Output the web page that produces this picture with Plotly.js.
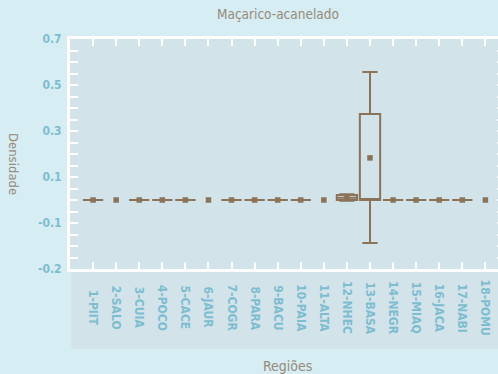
<!DOCTYPE html>
<html>
<head>
<meta charset="utf-8">
<script src="https://cdn.plot.ly/plotly-3.0.1.min.js"></script>
<style>
  html, body { margin: 0; padding: 0; overflow: hidden; background: #d6edf3; }
  #chart { width: 506px; height: 374px; }
</style>
</head>
<body>
<div id="chart"></div>
<script>
// Regions along the x axis
var categories = ['1-PIIT', '2-SALO', '3-CUIA', '4-POCO', '5-CACE', '6-JAUR',
  '7-COGR', '8-PARA', '9-BACU', '10-PAIA', '11-ALTA', '12-NHEC', '13-BASA',
  '14-NEGR', '15-MIAQ', '16-JACA', '17-NABI', '18-POMU'];

// Box summary per region (null = no box drawn, only the mean)
var q1Values     = [0, null, 0, 0, 0, null, 0, 0, 0, 0, null, 0.000, 0.000, 0, 0, 0, 0, null];
var medianValues = [0, null, 0, 0, 0, null, 0, 0, 0, 0, null, 0.010, 0.000, 0, 0, 0, 0, null];
var q3Values     = [0, null, 0, 0, 0, null, 0, 0, 0, 0, null, 0.022, 0.374, 0, 0, 0, 0, null];
var lowerValues  = [0, null, 0, 0, 0, null, 0, 0, 0, 0, null, -0.003, -0.187, 0, 0, 0, 0, null];
var upperValues  = [0, null, 0, 0, 0, null, 0, 0, 0, 0, null, 0.025, 0.557, 0, 0, 0, 0, null];
var meanValues   = [0, 0, 0, 0, 0, 0, 0, 0, 0, 0, 0, 0.012, 0.183, 0, 0, 0, 0, 0];

// Y axis tick positions and labels
var yTickVals = [-0.3, -0.25, -0.2, -0.15, -0.1, -0.05, 0, 0.05, 0.1, 0.15, 0.2,
  0.25, 0.3, 0.35, 0.4, 0.45, 0.5, 0.55, 0.6, 0.65, 0.7];
var yTickText = ['-0.2', '', '', '', '-0.1', '', '', '', '0.1', '', '',
  '', '0.3', '', '', '', '0.5', '', '', '', '0.7'];

var brown = '#8a7358';
var labelBlue = '#7dbdd0';
var titleGray = '#978a79';
var fontFamily = '"DejaVu Sans Condensed", "Liberation Sans Narrow", sans-serif';

var boxX = [], bq1 = [], bmed = [], bq3 = [], blo = [], bhi = [];
categories.forEach(function (c, i) {
  if (q1Values[i] === null) return;
  boxX.push(c);
  bq1.push(q1Values[i]);
  bmed.push(medianValues[i]);
  bq3.push(q3Values[i]);
  blo.push(lowerValues[i]);
  bhi.push(upperValues[i]);
});

var boxTrace = {
  type: 'box',
  x: boxX,
  q1: bq1,
  median: bmed,
  q3: bq3,
  lowerfence: blo,
  upperfence: bhi,
  line: { color: brown, width: 2 },
  fillcolor: 'rgba(0,0,0,0)',
  whiskerwidth: 0.75,
  boxpoints: false,
  showlegend: false,
  hoverinfo: 'skip'
};

var meanTrace = {
  type: 'scatter',
  mode: 'markers',
  x: categories,
  y: meanValues,
  marker: { symbol: 'square', size: 5.5, color: brown },
  showlegend: false,
  hoverinfo: 'skip'
};

// Region names, rotated and centred vertically in the band under the plot
var regionLabels = categories.map(function (c) {
  return {
    text: '<b>' + c + '</b>',
    xref: 'x', yref: 'paper',
    x: c, y: (269 - 308) / 230,
    xanchor: 'center', yanchor: 'middle',
    textangle: 90,
    showarrow: false,
    font: { family: fontFamily, size: 12, color: labelBlue }
  };
});

var layout = {
  width: 506,
  height: 374,
  margin: { l: 70, r: 1, t: 39, b: 105 },
  paper_bgcolor: '#d6edf3',
  plot_bgcolor: '#d3e3ea',
  boxgap: 0.12,
  boxgroupgap: 0,
  font: { family: fontFamily, color: titleGray },
  xaxis: {
    type: 'category',
    categoryorder: 'array',
    categoryarray: categories,
    range: [-1, 17.85],
    showline: true,
    linecolor: '#ffffff',
    linewidth: 3,
    mirror: 'ticks',
    ticks: 'inside',
    ticklen: 7,
    tickwidth: 2,
    tickcolor: '#ffffff',
    showticklabels: false,
    showgrid: false,
    zeroline: false
  },
  yaxis: {
    range: [-0.3, 0.7],
    tickmode: 'array',
    tickvals: yTickVals,
    ticktext: yTickText,
    showline: true,
    linecolor: '#ffffff',
    linewidth: 3,
    mirror: 'ticks',
    ticks: 'inside',
    ticklen: 8,
    tickwidth: 2,
    tickcolor: '#ffffff',
    ticklabelstandoff: 3,
    tickfont: { family: fontFamily, size: 12, color: labelBlue, weight: 'bold' },
    showgrid: false,
    zeroline: false
  },
  shapes: [{
    type: 'rect',
    xref: 'paper', yref: 'paper',
    x0: 0.003, x1: 1.2, y0: -0.348, y1: -0.009,
    fillcolor: '#d3e3ea',
    line: { width: 0 },
    layer: 'below'
  }],
  annotations: regionLabels.concat([
    {
      text: 'Maçarico-acanelado',
      xref: 'paper', yref: 'paper',
      x: (278 - 70) / 435, y: (269 - 14) / 230,
      xanchor: 'center', yanchor: 'middle',
      showarrow: false,
      font: { family: fontFamily, size: 13.5, color: titleGray }
    },
    {
      text: 'Densidade',
      xref: 'paper', yref: 'paper',
      x: (14 - 70) / 435, y: (269 - 164) / 230,
      xanchor: 'center', yanchor: 'middle',
      textangle: 90,
      showarrow: false,
      font: { family: fontFamily, size: 13, color: titleGray }
    },
    {
      text: 'Regiões',
      xref: 'paper', yref: 'paper',
      x: (287 - 70) / 435, y: (269 - 366) / 230,
      xanchor: 'center', yanchor: 'middle',
      showarrow: false,
      font: { family: fontFamily, size: 14, color: titleGray }
    }
  ])
};

Plotly.newPlot('chart', [boxTrace, meanTrace], layout, { staticPlot: true });
</script>
</body>
</html>
